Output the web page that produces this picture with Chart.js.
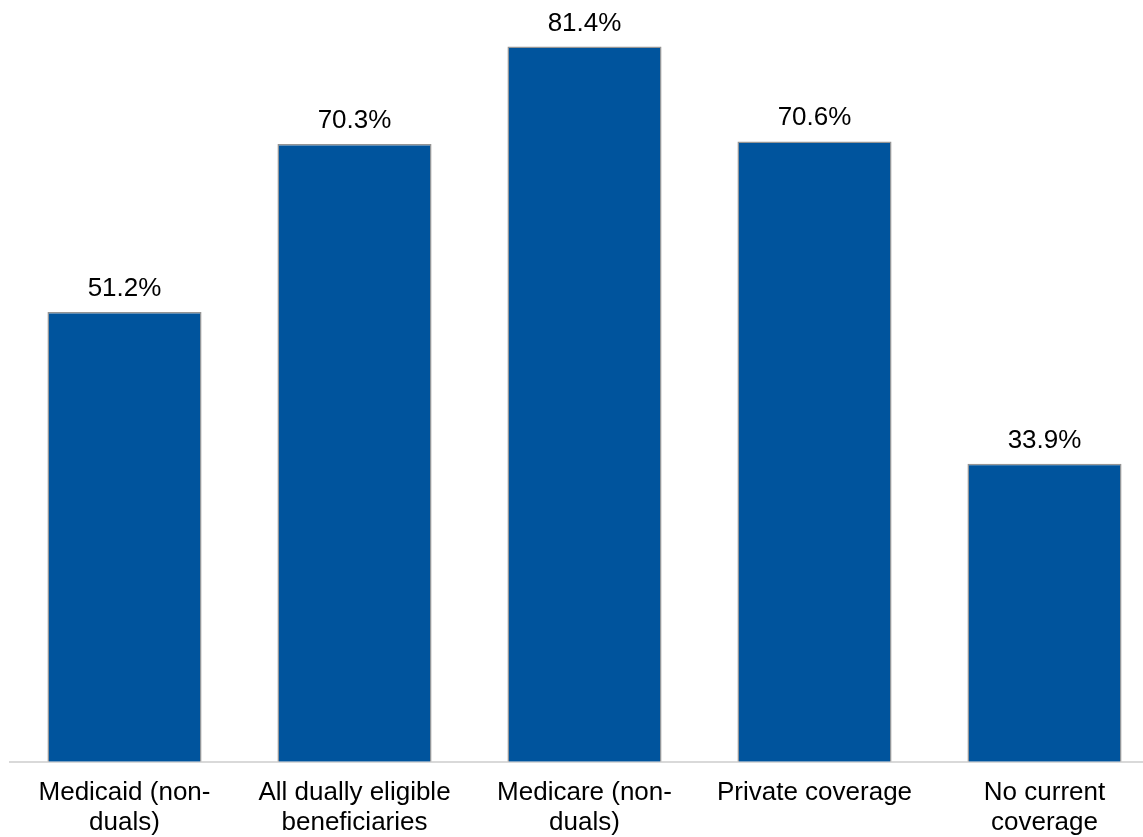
<!DOCTYPE html>
<html>
<head>
<meta charset="utf-8">
<script src="https://cdn.jsdelivr.net/npm/chart.js@4.4.1/dist/chart.umd.min.js"></script>
<style>
  html, body { margin: 0; padding: 0; background: #fff; overflow: hidden; }
  #wrap { width: 1170px; height: 837px; overflow: hidden; }
</style>
</head>
<body>
<div id="wrap"><canvas id="c" width="1170" height="854"></canvas></div>
<script>
const categories = [
  ["Medicaid (non-", "duals)"],
  ["All dually eligible", "beneficiaries"],
  ["Medicare (non-", "duals)"],
  ["Private coverage"],
  ["No current", "coverage"]
];
const values = [51.2, 70.3, 81.4, 70.6, 33.9];
const valueLabels = ["51.2%", "70.3%", "81.4%", "70.6%", "33.9%"];

const labelPlugin = {
  id: 'valLabels',
  afterDatasetsDraw(chart) {
    const ctx = chart.ctx;
    const meta = chart.getDatasetMeta(0);
    ctx.save();
    ctx.font = '26px "Liberation Sans", Arial, sans-serif';
    ctx.fillStyle = '#000';
    ctx.textAlign = 'center';
    ctx.textBaseline = 'alphabetic';
    meta.data.forEach((bar, i) => {
      ctx.fillText(valueLabels[i], bar.x, bar.y - 16);
    });
    ctx.restore();
  }
};

new Chart(document.getElementById('c'), {
  type: 'bar',
  data: {
    labels: categories,
    datasets: [{
      data: values,
      backgroundColor: '#00549d',
      borderColor: '#959595',
      borderWidth: 1.5,
      barPercentage: 0.67,
      categoryPercentage: 1.0
    }]
  },
  options: {
    responsive: false,
    animation: false,
    layout: { padding: { left: 9.5, right: 10.5, top: 0, bottom: 0 } },
    plugins: { legend: { display: false }, tooltip: { enabled: false } },
    scales: {
      y: { display: false, min: 0, max: 86.7 },
      x: {
        grid: { display: false, drawTicks: false },
        border: { display: true, color: '#d9d9d9', width: 2 },
        ticks: {
          color: '#000',
          padding: 16,
          maxRotation: 0,
          autoSkip: false,
          font: { family: '"Liberation Sans", Arial, sans-serif', size: 26, lineHeight: 1.16 }
        }
      }
    }
  },
  plugins: [labelPlugin]
});
</script>
</body>
</html>
